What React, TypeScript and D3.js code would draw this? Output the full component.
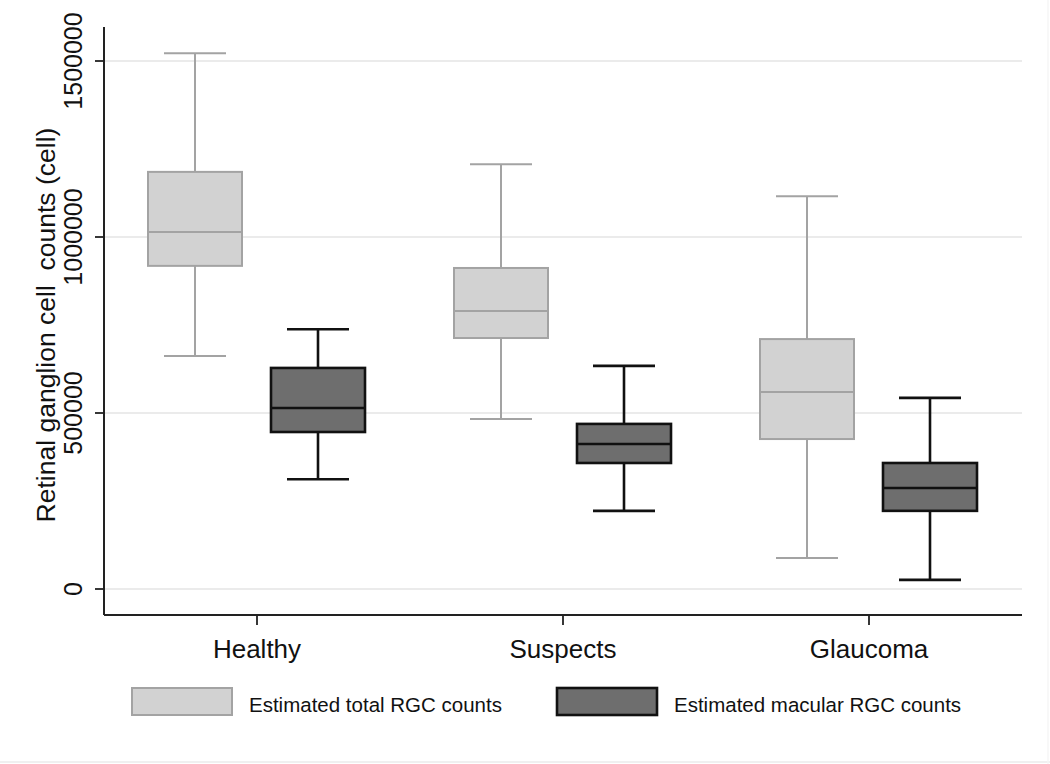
import React from "react";
import * as d3 from "d3";

const categories = ["Healthy", "Suspects", "Glaucoma"];
const seriesNames = ["Estimated total RGC counts", "Estimated macular RGC counts"];
// [lower whisker, q1, median, q3, upper whisker]
const totalRGC = [
  [662000, 918000, 1014000, 1185000, 1522000],
  [483000, 713000, 790000, 912000, 1207000],
  [88000, 426000, 560000, 710000, 1116000],
];
const macularRGC = [
  [312000, 446000, 514000, 628000, 738000],
  [222000, 358000, 412000, 469000, 634000],
  [26000, 222000, 287000, 358000, 543000],
];
const yTicks = [0, 500000, 1000000, 1500000];

const W = 1050;
const H = 764;
const left = 104;
const right = 1022;
const top = 27;
const bottom = 615;

const styles = [
  { fill: "#d2d2d2", stroke: "#a3a3a3", sw: 2, offset: -62 },
  { fill: "#6e6e6e", stroke: "#111111", sw: 2.6, offset: 61 },
];

export default function App() {
  const y = d3.scaleLinear().domain([0, 1500000]).range([589, 61]);
  const x = d3.scalePoint<string>().domain(categories).range([left, right]).padding(0.5);
  const boxW = 94;
  const capW = 62;
  const font = "'Liberation Sans', Arial, Helvetica, sans-serif";
  const series = [totalRGC, macularRGC];

  return (
    <svg width={W} height={H} style={{ position: "absolute", left: 0, top: 0, background: "#fff" }} fontFamily={font}>
      <rect x={0} y={0} width={W} height={H} fill="#ffffff" />
      <line x1={0} x2={W} y1={762} y2={762} stroke="#f0f0f0" strokeWidth={2} />
      <line x1={1048} x2={1048} y1={0} y2={H} stroke="#f6f6f6" strokeWidth={1.5} />
      {/* gridlines */}
      {yTicks.map((t) => (
        <line key={"g" + t} x1={left} x2={right} y1={y(t)} y2={y(t)} stroke="#e4e4e4" strokeWidth={1.5} />
      ))}
      {/* boxes */}
      {series.map((data, si) => {
        const s = styles[si];
        return data.map((d, ci) => {
          const cx = (x(categories[ci]) as number) + s.offset;
          const [lo, q1, med, q3, hi] = d;
          return (
            <g key={si + "-" + ci} stroke={s.stroke} strokeWidth={s.sw}>
              <line x1={cx} x2={cx} y1={y(hi)} y2={y(q3)} />
              <line x1={cx} x2={cx} y1={y(q1)} y2={y(lo)} />
              <line x1={cx - capW / 2} x2={cx + capW / 2} y1={y(hi)} y2={y(hi)} />
              <line x1={cx - capW / 2} x2={cx + capW / 2} y1={y(lo)} y2={y(lo)} />
              <rect x={cx - boxW / 2} y={y(q3)} width={boxW} height={y(q1) - y(q3)} fill={s.fill} />
              <line x1={cx - boxW / 2} x2={cx + boxW / 2} y1={y(med)} y2={y(med)} />
            </g>
          );
        });
      })}
      {/* axes */}
      <line x1={left} x2={left} y1={top} y2={bottom} stroke="#222" strokeWidth={2} />
      <line x1={left} x2={right} y1={bottom} y2={bottom} stroke="#222" strokeWidth={2} />
      {yTicks.map((t) => (
        <g key={"t" + t}>
          <line x1={left - 9} x2={left} y1={y(t)} y2={y(t)} stroke="#222" strokeWidth={1.8} />
          <text
            transform={`translate(82, ${y(t)}) rotate(-90)`}
            textAnchor="middle"
            fontSize={25}
            fill="#111"
          >
            {t}
          </text>
        </g>
      ))}
      {categories.map((c) => (
        <g key={c}>
          <line x1={x(c)} x2={x(c)} y1={bottom} y2={bottom + 10} stroke="#222" strokeWidth={1.8} />
          <text x={x(c)} y={658} textAnchor="middle" fontSize={26} fill="#111">
            {c}
          </text>
        </g>
      ))}
      <text
        transform={`translate(55, 325) rotate(-90)`}
        textAnchor="middle"
        fontSize={26.5}
        fill="#111"
        style={{ whiteSpace: "pre" }}
      >
        {"Retinal ganglion cell  counts (cell)"}
      </text>
      {/* legend */}
      {seriesNames.map((n, i) => {
        const bx = i === 0 ? 132 : 557;
        const s = styles[i];
        return (
          <g key={n}>
            <rect x={bx} y={688} width={100} height={27} fill={s.fill} stroke={s.stroke} strokeWidth={s.sw} />
            <text x={bx + 117} y={712} fontSize={20.5} fill="#111">
              {n}
            </text>
          </g>
        );
      })}
    </svg>
  );
}
